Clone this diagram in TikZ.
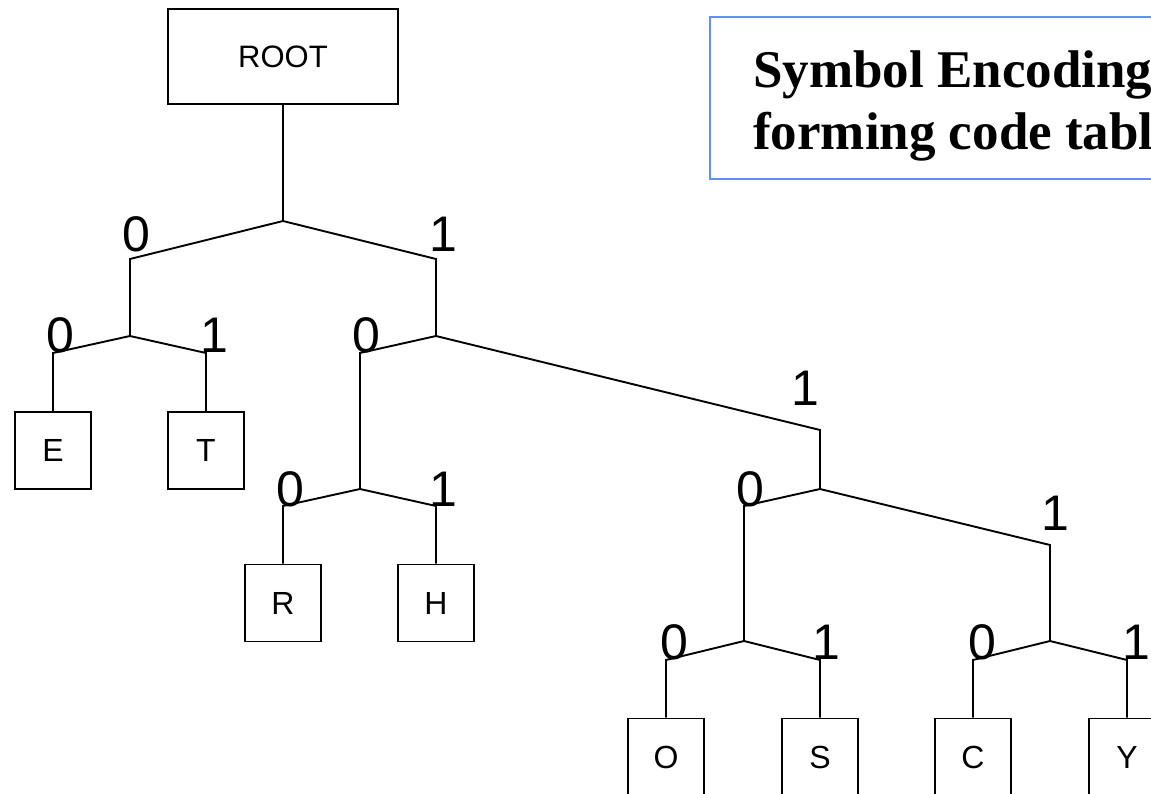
\documentclass[tikz,border=0pt]{standalone}
\usepackage{fontspec}
\setmainfont{Liberation Sans}
\newfontfamily\titlefont{Liberation Serif}
\definecolor{framebl}{RGB}{100,145,240}
\tikzset{
  leaf/.style={draw, line width=1.9pt, minimum width=76pt, minimum height=77pt, inner sep=0pt, font=\fontsize{32}{38}\selectfont},
  rootbox/.style={draw, line width=1.9pt, minimum width=230pt, minimum height=95pt, inner sep=0pt, font=\fontsize{31}{37}\selectfont},
  bit/.style={inner sep=0pt, font=\fontsize{50}{60}\selectfont},
  wire/.style={line width=1.9pt},
  titletext/.style={anchor=base west, inner sep=0pt, font=\titlefont\bfseries\fontsize{53}{62}\selectfont}
}
\begin{document}
\begin{tikzpicture}[x=1pt,y=-1pt]
\useasboundingbox (0,0) rectangle (1151,794);
\clip (0,0) rectangle (1151,794);
\fill[white] (0,0) rectangle (1151,794);

% title
\draw[framebl, line width=2pt] (710,17) rectangle (1170,179);
\node[titletext] (t1) at (753,88) {Symbol Encoding};
\node[titletext] (t2) at (753,150) {forming code table};

% boxes
\node[rootbox] (root) at (283,56.5) {ROOT};
\node[leaf] (E) at (53,450.5) {E};
\node[leaf] (T) at (206,450.5) {T};
\node[leaf] (R) at (283,603) {R};
\node[leaf] (H) at (436,603) {H};
\node[leaf] (O) at (666,757) {O};
\node[leaf] (S) at (820,757) {S};
\node[leaf] (C) at (973,757) {C};
\node[leaf] (Y) at (1127,757) {Y};

% junctions
\coordinate (j0) at (283,221);
\coordinate (j0a) at (130,259);
\coordinate (j0b) at (436,259);
\coordinate (n1) at (130,336);
\coordinate (n1a) at (53,353);
\coordinate (n1b) at (206,353);
\coordinate (n2) at (436,336);
\coordinate (n2a) at (360,353);
\coordinate (n2b) at (820,430);
\coordinate (n3) at (360,489);
\coordinate (n3a) at (283,506);
\coordinate (n3b) at (436,506);
\coordinate (n4) at (820,489);
\coordinate (n4a) at (744,506);
\coordinate (n4b) at (1050,545);
\coordinate (n5) at (744,641);
\coordinate (n5a) at (666,660);
\coordinate (n5b) at (820,660);
\coordinate (n6) at (1050,641);
\coordinate (n6a) at (973,660);
\coordinate (n6b) at (1127,660);

% connectors
\draw[wire] (root.south) -- (j0);
\draw[wire] (n1) -- (j0a) -- (j0) -- (j0b) -- (n2);
\draw[wire] (E.north) -- (n1a) -- (n1) -- (n1b) -- (T.north);
\draw[wire] (n3) -- (n2a) -- (n2) -- (n2b) -- (n4);
\draw[wire] (R.north) -- (n3a) -- (n3) -- (n3b) -- (H.north);
\draw[wire] (n5) -- (n4a) -- (n4) -- (n4b) -- (n6);
\draw[wire] (O.north) -- (n5a) -- (n5) -- (n5b) -- (S.north);
\draw[wire] (C.north) -- (n6a) -- (n6) -- (n6b) -- (Y.north);

% bit labels
\node[bit] (b1) at (136,234) {0};
\node[bit] (b2) at (443,234) {1};
\node[bit] (b3) at (60,335) {0};
\node[bit] (b4) at (214,335) {1};
\node[bit] (b5) at (366,335) {0};
\node[bit] (b6) at (805,388) {1};
\node[bit] (b7) at (290,489) {0};
\node[bit] (b8) at (443,489) {1};
\node[bit] (b9) at (750,489) {0};
\node[bit] (b10) at (1055,513) {1};
\node[bit] (b11) at (674,642) {0};
\node[bit] (b12) at (826,642) {1};
\node[bit] (b13) at (982,642) {0};
\node[bit] (b14) at (1136,642) {1};
\end{tikzpicture}
\end{document}
